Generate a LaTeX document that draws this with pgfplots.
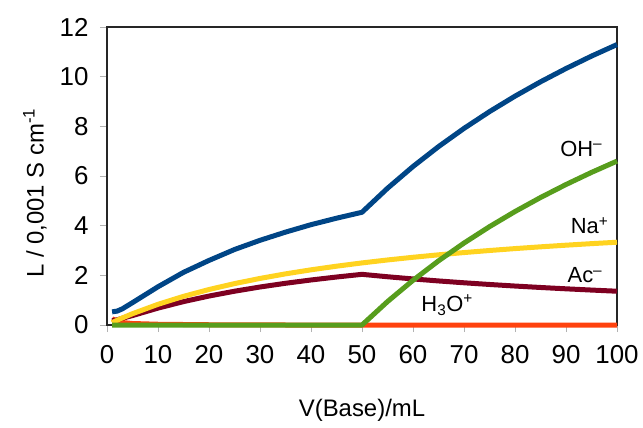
\documentclass[border=0pt]{standalone}
\usepackage{fontspec}
\setmainfont{Liberation Sans}
\usepackage{pgfplots}
\usepackage{pgfplotstable}
\pgfplotsset{compat=1.18}

\definecolor{loblue}{HTML}{004586}
\definecolor{loorange}{HTML}{FF420E}
\definecolor{loyellow}{HTML}{FFD320}
\definecolor{logreen}{HTML}{579D1C}
\definecolor{lored}{HTML}{7E0021}

% V in mL, conductivities in 0.001 S/cm
\pgfplotstableread{
V    Na     Ac     OH     H     Tot
1    0.098  0.17   0      0.25  0.53
2    0.192  0.21   0      0.15  0.56
3    0.283  0.27   0      0.10  0.65
5    0.455  0.38   0      0.06  0.90
10   0.833  0.68   0      0.03  1.54
15   1.154  0.942  0      0.02  2.12
20   1.429  1.166  0      0.01  2.60
25   1.667  1.36   0      0.01  3.04
30   1.875  1.53   0      0.01  3.41
35   2.059  1.68   0      0     3.74
40   2.222  1.813  0      0     4.04
45   2.368  1.932  0      0     4.30
50   2.5    2.04   0      0     4.54
55   2.619  1.943  0.943  0     5.505
60   2.727  1.855  1.8    0     6.382
65   2.826  1.774  2.583  0     7.183
70   2.917  1.7    3.3    0     7.917
75   3.0    1.632  3.96   0     8.592
80   3.077  1.569  4.569  0     9.215
85   3.148  1.511  5.133  0     9.792
90   3.214  1.457  5.657  0     10.328
95   3.276  1.407  6.145  0     10.828
100  3.333  1.36   6.6    0     11.293
}\titration

\begin{document}
\begin{tikzpicture}
\begin{axis}[
  at={(0,0)}, anchor=south west,
  scale only axis,
  width=510bp, height=298bp,
  xmin=0, xmax=100, ymin=0, ymax=12,
  xtick={0,10,...,100},
  ytick={0,2,...,12},
  tick pos=left,
  tick align=outside,
  major tick length=7bp,
  tick style={gray!60, line width=0.8bp},
  axis line style={black!85, line width=1.5bp},
  /pgf/number format/assume math mode=true,
  ticklabel style={font=\fontsize{26}{29}\selectfont},
  xticklabel style={yshift=-10bp},
  yticklabel style={xshift=-8bp},
  xlabel={V(Base)/mL},
  ylabel={L / 0,001 S cm\textsuperscript{-1}},
  every axis x label/.style={at={(axis description cs:0.5,0)}, yshift=-85bp, anchor=center, font=\fontsize{24}{28}\selectfont},
  every axis y label/.style={at={(axis description cs:0,0.5)}, xshift=-72bp, yshift=-17bp, rotate=90, anchor=center, font=\fontsize{24}{28}\selectfont},
  clip=false,
  every axis plot/.append style={line width=5bp, line join=round},
]
\addplot[loorange] table[x=V, y=H] {\titration};
\addplot[lored] table[x=V, y=Ac] {\titration};
\addplot[loyellow] table[x=V, y=Na] {\titration};
\addplot[logreen] table[x=V, y=OH] {\titration};
\addplot[loblue] table[x=V, y=Tot] {\titration};

\begin{scope}[font=\fontsize{22}{25}\selectfont]
\node[anchor=east] at (axis cs:97.8,7.1) {OH\textsuperscript{–}};
\node[anchor=east] at (axis cs:99,4.0) {Na\textsuperscript{+}};
\node[anchor=east] at (axis cs:97.8,2.0) {Ac\textsuperscript{–}};
\node at (axis cs:66.7,0.8) {H\textsubscript{3}O\textsuperscript{+}};
\end{scope}
\end{axis}
\pgfresetboundingbox
\path (-107bp,-103bp) rectangle (536bp,325bp);
\end{tikzpicture}
\end{document}
